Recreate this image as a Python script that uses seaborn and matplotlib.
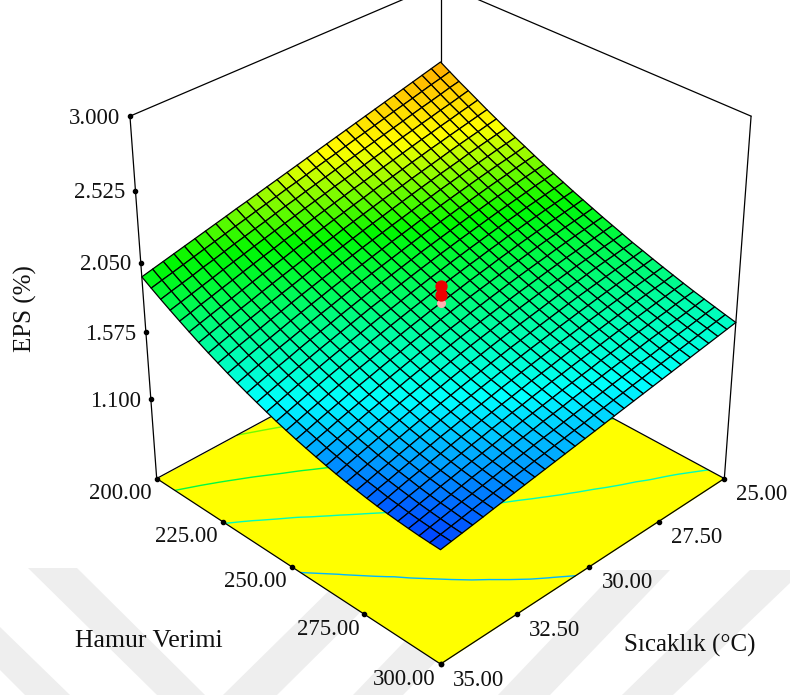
import numpy as np
import matplotlib
matplotlib.use('Agg')
import matplotlib.pyplot as plt
import seaborn as sns
from matplotlib.patches import Polygon
from matplotlib.colors import LinearSegmentedColormap
from mpl_toolkits.mplot3d import proj3d

sns.set_theme(style='white')
plt.rcParams['font.family'] = ['Liberation Serif', 'DejaVu Serif']

hamur_ticks = [200, 225, 250, 275, 300]
sicaklik_ticks = [25, 27.5, 30, 32.5, 35]
eps_ticks = [1.1, 1.575, 2.05, 2.525, 3.0]
hamur_labels = ['200.00', '225.00', '250.00', '275.00', '300.00']
sicaklik_labels = ['25.00', '27.50', '30.00', '32.50', '35.00']
eps_labels = ['1.100', '1.575', '2.050', '2.525', '3.000']
contour_levels = [1.46, 1.67, 1.87, 2.09, 2.30]
design_eps = [1.89, 1.83]
design_low = [1.78]

hamur_grid = np.linspace(200, 300, 31)
sicaklik_grid = np.linspace(25, 35, 31)
# EPS x 1000, satirlar sicaklik 25 -> 35, sutunlar hamur verimi 200 -> 300
eps_grid = [
    [2465, 2427, 2389, 2354, 2318, 2282, 2248, 2214, 2181, 2150, 2118, 2087, 2057, 2028, 1999, 1972, 1945, 1918, 1893, 1868, 1843, 1821, 1798, 1776, 1755, 1734, 1714, 1696, 1678, 1660, 1643],
    [2448, 2410, 2375, 2338, 2303, 2268, 2235, 2202, 2169, 2136, 2107, 2076, 2046, 2017, 1989, 1961, 1934, 1909, 1883, 1858, 1834, 1811, 1788, 1766, 1744, 1725, 1705, 1685, 1667, 1649, 1632],
    [2431, 2395, 2358, 2322, 2289, 2254, 2221, 2189, 2157, 2124, 2095, 2065, 2036, 2006, 1978, 1951, 1924, 1898, 1873, 1849, 1824, 1801, 1779, 1756, 1735, 1714, 1695, 1674, 1656, 1639, 1621],
    [2414, 2378, 2342, 2308, 2273, 2240, 2208, 2176, 2143, 2113, 2082, 2053, 2023, 1995, 1968, 1940, 1914, 1888, 1863, 1838, 1815, 1791, 1768, 1746, 1725, 1704, 1683, 1664, 1645, 1627, 1610],
    [2397, 2361, 2327, 2292, 2259, 2226, 2194, 2163, 2130, 2100, 2070, 2040, 2011, 1984, 1956, 1929, 1902, 1877, 1851, 1827, 1805, 1780, 1758, 1736, 1715, 1693, 1674, 1653, 1635, 1616, 1599],
    [2380, 2345, 2311, 2277, 2243, 2211, 2180, 2147, 2117, 2087, 2057, 2028, 1999, 1971, 1945, 1917, 1892, 1866, 1841, 1817, 1793, 1769, 1747, 1725, 1704, 1682, 1662, 1643, 1624, 1605, 1588],
    [2363, 2329, 2294, 2261, 2229, 2197, 2164, 2133, 2103, 2073, 2043, 2015, 1987, 1959, 1932, 1905, 1880, 1853, 1829, 1805, 1781, 1758, 1736, 1714, 1692, 1672, 1652, 1633, 1613, 1594, 1576],
    [2346, 2312, 2278, 2246, 2213, 2181, 2149, 2119, 2089, 2059, 2029, 2001, 1973, 1946, 1920, 1893, 1867, 1841, 1817, 1793, 1770, 1747, 1724, 1702, 1681, 1661, 1641, 1621, 1601, 1583, 1565],
    [2329, 2295, 2262, 2229, 2197, 2166, 2134, 2104, 2075, 2045, 2016, 1988, 1959, 1932, 1905, 1879, 1854, 1829, 1804, 1781, 1758, 1735, 1713, 1691, 1669, 1649, 1628, 1609, 1591, 1572, 1554],
    [2312, 2278, 2245, 2213, 2181, 2150, 2119, 2089, 2059, 2030, 2001, 1973, 1945, 1918, 1892, 1866, 1841, 1816, 1791, 1768, 1745, 1722, 1700, 1678, 1658, 1637, 1617, 1598, 1579, 1560, 1543],
    [2295, 2262, 2229, 2197, 2165, 2134, 2102, 2073, 2044, 2015, 1986, 1958, 1931, 1904, 1877, 1851, 1826, 1803, 1779, 1755, 1731, 1709, 1688, 1666, 1645, 1625, 1606, 1587, 1568, 1550, 1532],
    [2278, 2245, 2212, 2180, 2148, 2118, 2087, 2057, 2027, 2000, 1971, 1943, 1916, 1889, 1863, 1837, 1812, 1788, 1765, 1742, 1718, 1696, 1674, 1654, 1634, 1613, 1592, 1575, 1557, 1538, 1521],
    [2261, 2227, 2196, 2163, 2131, 2102, 2071, 2041, 2011, 1983, 1956, 1928, 1901, 1874, 1848, 1823, 1798, 1774, 1750, 1728, 1705, 1682, 1661, 1640, 1621, 1601, 1581, 1562, 1544, 1527, 1510],
    [2244, 2211, 2178, 2146, 2116, 2084, 2054, 2024, 1995, 1967, 1939, 1913, 1885, 1858, 1833, 1807, 1784, 1759, 1735, 1714, 1691, 1668, 1648, 1627, 1607, 1588, 1568, 1551, 1532, 1515, 1499],
    [2227, 2194, 2161, 2130, 2098, 2068, 2037, 2008, 1978, 1951, 1922, 1895, 1869, 1843, 1817, 1792, 1768, 1744, 1721, 1698, 1676, 1655, 1634, 1614, 1594, 1576, 1556, 1539, 1520, 1504, 1487],
    [2210, 2176, 2144, 2112, 2081, 2050, 2020, 1991, 1961, 1933, 1905, 1878, 1852, 1826, 1801, 1775, 1752, 1727, 1705, 1683, 1661, 1640, 1619, 1600, 1581, 1562, 1543, 1525, 1508, 1491, 1476],
    [2193, 2159, 2127, 2095, 2063, 2033, 2003, 1973, 1944, 1916, 1888, 1861, 1835, 1809, 1784, 1760, 1736, 1712, 1690, 1668, 1645, 1625, 1605, 1585, 1566, 1549, 1530, 1513, 1496, 1480, 1465],
    [2176, 2143, 2109, 2078, 2046, 2015, 1984, 1955, 1926, 1898, 1871, 1844, 1817, 1791, 1767, 1742, 1718, 1695, 1673, 1652, 1630, 1609, 1589, 1571, 1551, 1534, 1517, 1501, 1483, 1468, 1454],
    [2159, 2125, 2093, 2060, 2028, 1997, 1967, 1937, 1908, 1880, 1853, 1826, 1799, 1773, 1749, 1725, 1701, 1678, 1656, 1635, 1614, 1593, 1574, 1555, 1538, 1521, 1504, 1487, 1472, 1457, 1443],
    [2142, 2108, 2075, 2042, 2010, 1979, 1949, 1919, 1889, 1861, 1834, 1807, 1782, 1756, 1731, 1707, 1684, 1662, 1639, 1617, 1597, 1577, 1558, 1540, 1523, 1506, 1489, 1474, 1460, 1445, 1432],
    [2125, 2091, 2056, 2024, 1993, 1961, 1930, 1901, 1871, 1843, 1815, 1788, 1762, 1737, 1712, 1688, 1665, 1643, 1621, 1600, 1579, 1560, 1543, 1525, 1508, 1492, 1476, 1461, 1447, 1434, 1421],
    [2109, 2073, 2039, 2006, 1973, 1941, 1911, 1881, 1852, 1823, 1795, 1769, 1742, 1717, 1694, 1670, 1647, 1624, 1603, 1582, 1563, 1544, 1526, 1509, 1492, 1476, 1461, 1448, 1434, 1421, 1410],
    [2091, 2056, 2021, 1988, 1955, 1923, 1892, 1861, 1833, 1804, 1776, 1748, 1723, 1698, 1674, 1650, 1628, 1606, 1584, 1564, 1546, 1527, 1510, 1492, 1477, 1462, 1447, 1433, 1422, 1410, 1399],
    [2074, 2038, 2004, 1969, 1936, 1904, 1873, 1842, 1813, 1784, 1756, 1729, 1703, 1678, 1655, 1631, 1608, 1587, 1566, 1546, 1528, 1509, 1492, 1477, 1461, 1446, 1433, 1420, 1408, 1398, 1388],
    [2057, 2020, 1985, 1951, 1917, 1884, 1853, 1822, 1792, 1764, 1735, 1709, 1683, 1658, 1634, 1611, 1589, 1566, 1547, 1527, 1509, 1491, 1475, 1459, 1444, 1431, 1418, 1407, 1395, 1386, 1377],
    [2040, 2003, 1966, 1932, 1897, 1864, 1832, 1802, 1772, 1742, 1714, 1688, 1662, 1637, 1614, 1590, 1569, 1547, 1528, 1508, 1490, 1472, 1457, 1442, 1428, 1414, 1403, 1392, 1382, 1373, 1366],
    [2023, 1985, 1949, 1912, 1878, 1844, 1812, 1782, 1750, 1721, 1694, 1665, 1640, 1615, 1592, 1569, 1547, 1527, 1507, 1488, 1471, 1453, 1439, 1425, 1411, 1399, 1389, 1377, 1370, 1361, 1354],
    [2006, 1967, 1929, 1893, 1858, 1824, 1792, 1760, 1729, 1700, 1672, 1644, 1618, 1594, 1570, 1547, 1526, 1506, 1486, 1468, 1451, 1434, 1420, 1407, 1395, 1382, 1372, 1363, 1356, 1348, 1343],
    [1989, 1949, 1911, 1874, 1839, 1804, 1771, 1739, 1708, 1678, 1650, 1623, 1596, 1571, 1547, 1525, 1504, 1483, 1465, 1448, 1431, 1415, 1402, 1388, 1377, 1367, 1357, 1349, 1342, 1336, 1332],
    [1972, 1932, 1893, 1855, 1818, 1783, 1749, 1717, 1686, 1655, 1627, 1600, 1574, 1548, 1524, 1502, 1481, 1462, 1443, 1426, 1411, 1395, 1382, 1371, 1358, 1350, 1341, 1334, 1329, 1324, 1321],
    [1955, 1914, 1874, 1836, 1799, 1763, 1728, 1695, 1664, 1633, 1604, 1577, 1551, 1526, 1502, 1480, 1459, 1440, 1422, 1405, 1389, 1375, 1363, 1351, 1341, 1333, 1326, 1320, 1315, 1312, 1310],
]

W, H = 790, 695
z0, z1 = 0.52, 3.0
S = 1000
cx, cy = 427, 319
fig = plt.figure(figsize=(W / 100, H / 100), dpi=100)

# arka plandaki filigran
bands = [[(28, 568), (77, 568), (205, 695), (157, 695)],
         [(0, 627), (70, 695), (25, 695), (0, 670)],
         [(350, 570), (403, 570), (277, 695), (223, 695)],
         [(473, 570), (526, 570), (403, 695), (353, 695)],
         [(617, 570), (670, 570), (550, 695), (498, 695)],
         [(750, 570), (790, 570), (790, 583), (673, 695), (622, 695)]]
for b in bands:
    fig.add_artist(Polygon([(x / W, 1 - y / H) for x, y in b], closed=True, transform=fig.transFigure,
                           facecolor='#eeeeee', edgecolor='none', zorder=-1))

ax = fig.add_axes([(cx - S / 2) / W, (H - cy - S / 2) / H, S / W, S / H], projection='3d', computed_zorder=False)
ax.set_proj_type('persp', focal_length=0.47)
ax.view_init(elev=32.3, azim=-45)
ax.set_box_aspect((1, 1, 1.02), zoom=0.71)
ax.set_xlim(200, 300)
ax.set_ylim(35, 25)
ax.set_zlim(z0, z1)
ax.set_axis_off()
ax.patch.set_alpha(0)

X, Y = np.meshgrid(hamur_grid, sicaklik_grid)
Z = np.array(eps_grid) / 1000
zmin, zmax = 1.22, 2.94
cmap = LinearSegmentedColormap.from_list('eps', [(0, '#0000ff'), (0.192, '#00ffff'), (0.442, '#00f800'), (0.587, '#ffff00'), (1, '#ff0000')])

ax.plot_surface(np.array([[200, 300], [200, 300]]), np.array([[25, 25], [35, 35]]),
                np.full((2, 2), z0), color='#ffff00', shade=False, zorder=1, linewidth=0)
ax.contour(X, Y, Z, levels=contour_levels, zdir='z', offset=z0, cmap=cmap, vmin=zmin, vmax=zmax, linewidths=1, zorder=2)

# kutu cizgileri
edges = [((200, 35), (300, 35)), ((300, 35), (300, 25)), ((300, 25), (200, 25)), ((200, 25), (200, 35))]
for a, b in edges:
    ax.plot([a[0], b[0]], [a[1], b[1]], [z0, z0], color='black', lw=0.9, zorder=3)
for x, y in [(200, 35), (200, 25), (300, 25)]:
    ax.plot([x, x], [y, y], [z0, z1], color='black', lw=0.9, zorder=3)
ax.plot([200, 200, 300], [35, 25, 25], [z1, z1, z1], color='black', lw=0.9, zorder=3)

ax.plot_surface(X, Y, Z, cmap=cmap, vmin=zmin, vmax=zmax, edgecolor='black', linewidth=0.9, shade=False,
                rstride=1, cstride=1, zorder=4)
ax.scatter([250], [30], design_low, color='#ffb0b0', s=30, depthshade=False, zorder=5)
ax.scatter([250] * 2, [30] * 2, design_eps, color='#ee0000', s=62, depthshade=False, zorder=6)

M = ax.get_proj()


def mark(x, y, z, label, off, ha):
    px, py, _ = proj3d.proj_transform(x, y, z, M)
    ax.plot([x], [y], [z], 'o', color='black', ms=3, zorder=7)
    ax.annotate(label, xy=(px, py), xytext=off, textcoords='offset pixels', ha=ha, va='center',
                fontsize=16.5, color='#111111')


for v, t in zip(hamur_ticks, hamur_labels):
    mark(v, 35, z0, t, (-5, -15), 'right')
for v, t in zip(sicaklik_ticks, sicaklik_labels):
    mark(300, v, z0, t, (12, -16), 'left')
for v, t in zip(eps_ticks, eps_labels):
    mark(200, 35, v, t, (-10, -2), 'right')

fig.text(149 / W, 1 - 641 / H, 'Hamur Verimi', ha='center', va='center', fontsize=18.5, color='#111111')
fig.text(690 / W, 1 - 645 / H, 'Sıcaklık (°C)', ha='center', va='center', fontsize=18, color='#111111')
fig.text(25 / W, 1 - 309 / H, 'EPS (%)', ha='center', va='center', rotation=90, fontsize=18, color='#111111')

plt.savefig('out.png', dpi=100)
